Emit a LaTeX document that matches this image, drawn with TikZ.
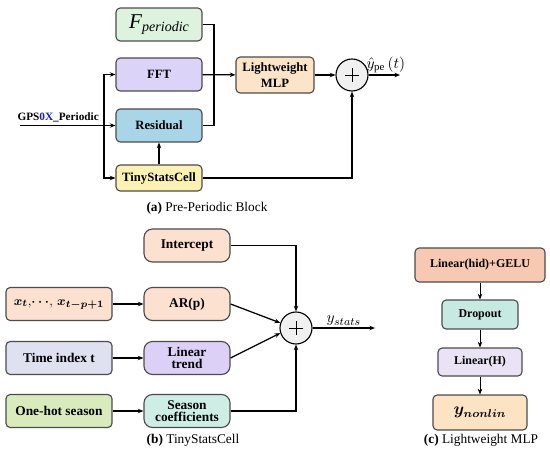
\documentclass[tikz,border=0pt]{standalone}
\usepackage{fontspec}
\setmainfont{Liberation Serif}
\usepackage{amsmath}
\usepackage{xcolor}
\usetikzlibrary{positioning, arrows.meta}
\definecolor{fperC}{HTML}{DDF3DD}
\definecolor{fftC}{HTML}{DCD3F8}
\definecolor{resC}{HTML}{A9D5E8}
\definecolor{tinyC}{HTML}{FBF1B3}
\definecolor{mlpC}{HTML}{FCE4C8}
\definecolor{salmonC}{HTML}{FCE0D0}
\definecolor{trendC}{HTML}{DDD0F7}
\definecolor{timeC}{HTML}{DFE0F0}
\definecolor{seasonC}{HTML}{CDEDE5}
\definecolor{onehotC}{HTML}{D9EBBD}
\definecolor{geluC}{HTML}{F8C9B2}
\definecolor{dropC}{HTML}{C6EAE2}
\definecolor{linhC}{HTML}{E9E3F5}
\definecolor{ynlC}{HTML}{FCE3C3}
\definecolor{gpsblue}{HTML}{1A1AC8}
\tikzset{
	>={Stealth[length=4pt, width=3.2pt]},
	blk/.style={draw=black!70, line width=0.8pt, rounded corners=3pt, align=center,
		inner sep=0pt, font=\bfseries\fontsize{9}{11}\selectfont},
	blkA/.style={blk, minimum width=2.15cm, minimum height=0.825cm},
	blkB/.style={blk, rounded corners=6pt, minimum width=2.15cm, minimum height=0.825cm,
		font=\bfseries\fontsize{9.5}{8.5}\selectfont},
	blkL/.style={blk, minimum width=2.65cm, minimum height=0.825cm,
		font=\bfseries\fontsize{9.5}{8.5}\selectfont},
	blkC/.style={blk, font=\bfseries\fontsize{8.5}{9}\selectfont},
	sumnode/.style={circle, draw=black, line width=0.8pt, fill=gray!12, minimum size=0.8cm,
		path picture={
			\draw[line width=0.6pt] ([xshift=-0.17cm]path picture bounding box.center) -- ([xshift=0.17cm]path picture bounding box.center);
			\draw[line width=0.6pt] ([yshift=-0.17cm]path picture bounding box.center) -- ([yshift=0.17cm]path picture bounding box.center);}},
	wire/.style={line width=0.9pt},
	captxt/.style={font=\fontsize{9.5}{10}\selectfont}
}

\begin{document}
\begin{tikzpicture}[x=0.025cm, y=-0.025cm]
	\useasboundingbox (0,0) rectangle (550,459);
	
	%(a) Pre-Periodic Block
	\node[blkA, fill=fperC] (fper) at (159,24.5) {\normalfont{\fontsize{15}{15}\selectfont\textit{F}}\raisebox{-0.3em}{\fontsize{10}{10}\selectfont\textit{periodic}}};
	\node[blkA, fill=fftC] (fft) at (159,74.5) {FFT};
	\node[blkA, fill=resC] (res) at (159,125.5) {Residual};
	\node[blkA, fill=tinyC, minimum height=0.65cm] (tiny) at (159,178) {TinyStatsCell};
	\node[blkA, fill=mlpC, minimum width=1.95cm, minimum height=0.9cm] (mlp) at (275,75) {Lightweight\\MLP};
	\node[sumnode] (sumA) at (352,75) {};
	
	\coordinate (inA) at (20,125.5);
	\coordinate (split) at (104,125.5);
	\coordinate (join) at (214,75);
	\coordinate (outA) at (400,75);
	
	\draw[wire, ->] (inA) -- node[above, pos=0.4, font=\bfseries\fontsize{8}{9}\selectfont, inner sep=2pt] {GPS\textcolor{gpsblue}{0X}\_Periodic} (res);
	\draw[wire, ->] (split) |- (fft);
	\draw[wire, ->] (split) |- (tiny);
	\draw[wire] (fper.east) -| (join);
	\draw[wire] (res.east) -| (join);
	\draw[wire, ->] (fft) -- (mlp);
	\draw[wire, ->] (tiny) -- (res);
	\draw[wire, ->] (tiny) -| (sumA);
	\draw[wire, ->] (mlp) -- (sumA);
	\draw[wire, ->] (sumA) -- (outA) node[pos=0.55, above, inner sep=1pt, font=\fontsize{11}{12}\selectfont] {$\hat{y}_{\mathrm{pe}}\left(t\right)$};
	
	\node[captxt] (capA) at (207,208) {\textbf{(a)} Pre-Periodic Block};
	
	%(b) TinyStatsCell
	\node[blkB, fill=salmonC] (icpt) at (187,245.5) {Intercept};
	\node[blkB, fill=salmonC] (ar) at (187,304) {AR(p)};
	\node[blkB, fill=trendC] (trend) at (187,358) {Linear\\trend};
	\node[blkB, fill=seasonC] (season) at (187,411) {Season\\coefficients};
	
	\node[blkL, fill=salmonC] (xt) at (59,304) {\fontsize{9.5}{10}\selectfont$\boldsymbol{x_t},\!\boldsymbol{\cdots}\!,\,\boldsymbol{x_{t-p+1}}$};
	\node[blkL, fill=timeC] (time) at (59,358) {Time index t};
	\node[blkL, fill=onehotC] (onehot) at (59,411) {One-hot season};
	
	\node[sumnode] (sumB) at (296,328) {};
	\coordinate (outB) at (375,328);
	
	\draw[wire, ->] (xt) -- (ar);
	\draw[wire, ->] (time) -- (trend);
	\draw[wire, ->] (onehot) -- (season);
	\draw[wire, ->] (icpt) -| (sumB);
	\draw[wire, ->] (ar.east) -- (sumB.162);
	\draw[wire, ->] (trend.east) -- (sumB.198);
	\draw[wire, ->] (season) -| (sumB);
	\draw[wire, ->] (sumB) -- (outB) node[pos=0.5, above, inner sep=1pt, font=\fontsize{11}{12}\selectfont] {$y_{stats}$};
	
	\node[captxt] (capB) at (193,440) {\textbf{(b)} TinyStatsCell};
	
	%(c) Lightweight MLP
	\node[blkC, fill=geluC, minimum width=3.25cm, minimum height=0.85cm] (gelu) at (480,265) {Linear(hid)+GELU};
	\node[blkC, fill=dropC, minimum width=1.9cm, minimum height=0.725cm] (drop) at (480,314.5) {Dropout};
	\node[blkC, fill=linhC, minimum width=2.1cm, minimum height=0.7cm] (linh) at (480,362) {Linear(H)};
	\node[blkC, fill=ynlC, minimum width=2.35cm, minimum height=0.875cm] (ynl) at (480,412.5) {\fontsize{12}{12}\selectfont$\boldsymbol{y_{nonlin}}$};
	
	\draw[->] (gelu) -- (drop);
	\draw[->] (drop) -- (linh);
	\draw[->] (linh) -- (ynl);
	
	\node[captxt] (capC) at (481,440) {\textbf{(c)} Lightweight MLP};
\end{tikzpicture}
\end{document}
